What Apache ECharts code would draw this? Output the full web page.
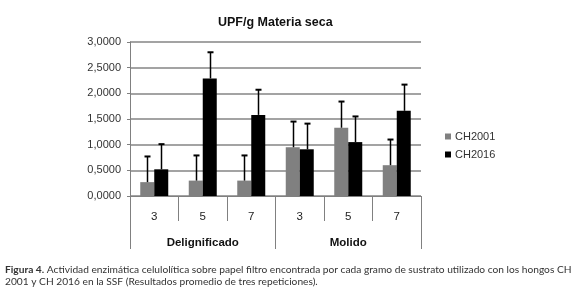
<!DOCTYPE html>
<html>
<head>
<meta charset="utf-8">
<script src="https://cdn.jsdelivr.net/npm/echarts@6/dist/echarts.min.js"></script>
<style>
html,body{margin:0;padding:0;background:#fff;}
#c{width:579px;height:302px;}
</style>
</head>
<body>
<div id="c"></div>
<script>
// ---- data ----
const categories = ['3', '5', '7', '3', '5', '7'];
const groups = ['Delignificado', 'Molido'];
const seriesNames = ['CH2001', 'CH2016'];
const ch2001 = [0.27, 0.30, 0.30, 0.95, 1.33, 0.60];
const ch2001Err = [0.50, 0.49, 0.49, 0.50, 0.51, 0.50];
const ch2016 = [0.52, 2.29, 1.58, 0.91, 1.05, 1.66];
const ch2016Err = [0.49, 0.51, 0.49, 0.50, 0.50, 0.51];
const yTicks = [0, 0.5, 1, 1.5, 2, 2.5, 3];
const titleText = 'UPF/g Materia seca';
const captionBold = 'Figura 4.';
const captionLine1 = ' Actividad enzimática celulolítica sobre papel filtro encontrada por cada gramo de sustrato utilizado con los hongos CH';
const captionLine2 = '2001 y CH 2016 en la SSF (Resultados promedio de tres repeticiones).';

const BAR_W = 14;
const colors = ['#808080', '#000000'];

function errSeries(vals, errs, side) {
  return {
    type: 'custom',
    xAxisIndex: 0,
    yAxisIndex: 0,
    silent: true,
    z: 5,
    data: vals.map((v, i) => [i, v, v + errs[i]]),
    encode: { x: 0, y: [1, 2] },
    renderItem: function (params, api) {
      const base = api.coord([api.value(0), api.value(1)]);
      const top = api.coord([api.value(0), api.value(2)]);
      const x = Math.round(base[0] + side * BAR_W / 2) + 0.5;
      const cap = 3;
      return {
        type: 'group',
        children: [
          { type: 'line', shape: { x1: x, y1: base[1], x2: x, y2: top[1] }, style: { stroke: '#000', lineWidth: 1.5 } },
          { type: 'line', shape: { x1: x - cap, y1: top[1], x2: x + cap, y2: top[1] }, style: { stroke: '#000', lineWidth: 2 } }
        ]
      };
    }
  };
}

const chart = echarts.init(document.getElementById('c'), null, { renderer: 'canvas' });
chart.setOption({
  animation: false,
  backgroundColor: '#fff',
  textStyle: { fontFamily: 'Liberation Sans, Arial, sans-serif' },
  title: {
    text: titleText,
    left: 213,
    top: 11,
    textStyle: { fontSize: 12.5, fontWeight: 'bold', color: '#111', fontFamily: 'Liberation Sans, Arial, sans-serif' }
  },
  legend: {
    data: seriesNames,
    orient: 'vertical',
    left: 440,
    top: 126,
    itemWidth: 6,
    itemHeight: 6,
    itemGap: 7,
    icon: 'rect',
    textStyle: { fontSize: 11, color: '#333', padding: [0, 0, 0, -1] }
  },
  grid: { left: 130, right: 158, top: 42, bottom: 106, containLabel: false },
  xAxis: [
    {
      type: 'category',
      data: categories,
      position: 'bottom',
      axisLine: { show: true, lineStyle: { color: '#808080', width: 1 } },
      axisTick: { show: true, length: 25, interval: 0, lineStyle: { color: '#808080', width: 1 } },
      axisLabel: { margin: 15, fontSize: 11.5, color: '#222', interval: 0 },
      splitLine: { show: false }
    },
    {
      type: 'category',
      data: groups,
      position: 'bottom',
      axisLine: { show: false },
      axisTick: { show: true, length: 53, interval: 0, lineStyle: { color: '#808080', width: 1 } },
      axisLabel: { margin: 41, fontSize: 11.5, fontWeight: 'bold', color: '#111', interval: 0 },
      splitLine: { show: false }
    }
  ],
  yAxis: {
    type: 'value',
    min: yTicks[0],
    max: yTicks[yTicks.length - 1],
    interval: 0.5,
    axisLine: { show: true, lineStyle: { color: '#808080', width: 1 } },
    axisTick: { show: true, length: 3, lineStyle: { color: '#808080' } },
    axisLabel: {
      margin: 9, fontSize: 11, color: '#333',
      formatter: v => v.toFixed(4).replace('.', ',')
    },
    splitLine: { show: true, lineStyle: { color: '#858585', width: 1.6 } }
  },
  series: [
    { name: seriesNames[0], type: 'bar', data: ch2001, barWidth: BAR_W, barGap: '0%', itemStyle: { color: colors[0] }, z: 3 },
    { name: seriesNames[1], type: 'bar', data: ch2016, barWidth: BAR_W, barGap: '0%', itemStyle: { color: colors[1] }, z: 3 },
    errSeries(ch2001, ch2001Err, -1),
    errSeries(ch2016, ch2016Err, 1)
  ],
  graphic: [
    {
      type: 'text', left: 5, top: 265,
      style: {
        text: '{b|' + captionBold + '}{n|' + captionLine1 + '}',
        rich: {
          b: { fontFamily: 'Lato', fontWeight: 'bold', fontSize: 10.2, fill: '#333' },
          n: { fontFamily: 'Lato', fontSize: 10.2, fill: '#333' }
        }
      }
    },
    {
      type: 'text', left: 5, top: 277,
      style: { text: captionLine2, fontFamily: 'Lato', fontSize: 10.2, fill: '#333' }
    }
  ]
});
</script>
</body>
</html>
